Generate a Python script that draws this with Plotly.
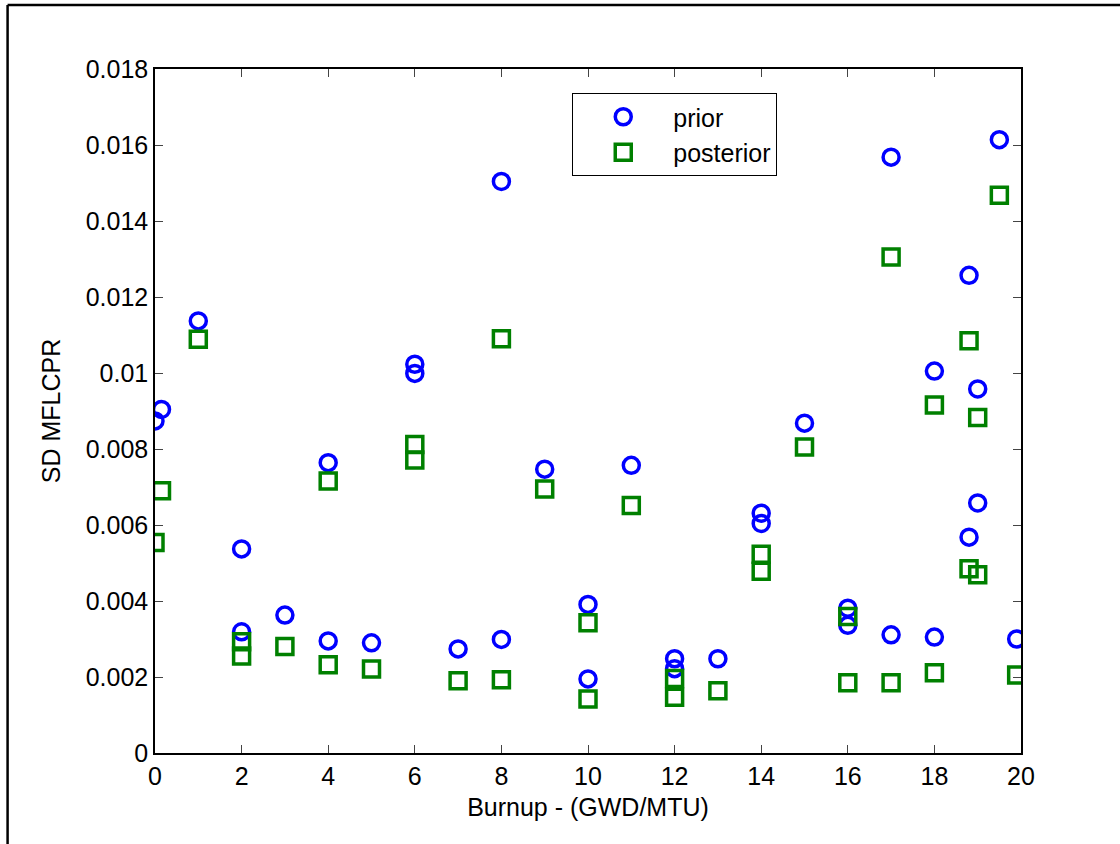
import plotly.graph_objects as go

# Burnup (GWD/MTU) positions
burnup = [0, 0.15, 1, 2, 2, 3, 4, 4, 5, 6, 6, 7, 8, 8, 9, 10, 10, 11, 12, 12,
          13, 14, 14, 15, 16, 16, 17, 17, 18, 18, 18.8, 18.8, 19, 19, 19.5, 19.9]

sd_prior = [0.00874, 0.00904, 0.01137, 0.00537, 0.00319, 0.00363, 0.00764, 0.00295,
            0.00290, 0.01023, 0.00999, 0.00274, 0.01504, 0.00299, 0.00747, 0.00391,
            0.00195, 0.00757, 0.00248, 0.00222, 0.00248, 0.00631, 0.00604, 0.00868,
            0.00381, 0.00336, 0.01568, 0.00311, 0.01005, 0.00305, 0.01257, 0.00568,
            0.00958, 0.00658, 0.01614, 0.00300]

sd_posterior = [0.00554, 0.00690, 0.01089, 0.00293, 0.00255, 0.00280, 0.00716, 0.00232,
                0.00221, 0.00812, 0.00771, 0.00190, 0.01090, 0.00193, 0.00695, 0.00343,
                0.00142, 0.00651, 0.00196, 0.00147, 0.00164, 0.00523, 0.00478, 0.00805,
                0.00359, 0.00185, 0.01305, 0.00185, 0.00916, 0.00211, 0.01085, 0.00485,
                0.00883, 0.00469, 0.01468, 0.00205]

x_ticks = [0, 2, 4, 6, 8, 10, 12, 14, 16, 18, 20]
y_ticks = [0, 0.002, 0.004, 0.006, 0.008, 0.01, 0.012, 0.014, 0.016, 0.018]
y_tick_labels = ["0", "0.002", "0.004", "0.006", "0.008", "0.01", "0.012", "0.014", "0.016", "0.018"]

FONT = "Liberation Sans, Arial, sans-serif"
FS = 25

fig = go.Figure()
fig.add_trace(go.Scatter(
    x=burnup, y=sd_prior, mode="markers", name="prior",
    marker=dict(symbol="circle-open", size=16, color="#0000ff",
                line=dict(width=3.5, color="#0000ff")),
))
fig.add_trace(go.Scatter(
    x=burnup, y=sd_posterior, mode="markers", name="posterior",
    marker=dict(symbol="square-open", size=16, color="#008000",
                line=dict(width=3.5, color="#008000")),
))

L, R, T, B = 154.5, 99, 69, 91
W, H = 1120, 844
pw, ph = W - L - R, H - T - B

def px_x(p):
    return (p - L) / pw

def px_y(p):
    return (H - B - p) / ph

axis_common = dict(
    showline=True, linecolor="black", linewidth=1.5, mirror="ticks",
    ticks="inside", ticklen=8, tickwidth=1, tickcolor="#444444",
    showgrid=False, zeroline=False,
    tickfont=dict(family=FONT, size=FS, color="black"),
)

fig.update_layout(
    width=W, height=H,
    margin=dict(l=L, r=R, t=T, b=B, autoexpand=False),
    paper_bgcolor="white", plot_bgcolor="white",
    font=dict(family=FONT, color="black"),
    xaxis=dict(range=[0, 20], tickvals=x_ticks,
               title=dict(text="Burnup - (GWD/MTU)", font=dict(family=FONT, size=FS), standoff=10),
               **axis_common),
    yaxis=dict(range=[0, 0.018], tickvals=y_ticks, ticktext=y_tick_labels,
               title=dict(text="SD MFLCPR", font=dict(family=FONT, size=FS), standoff=18),
               **axis_common),
    legend=dict(x=px_x(572), y=px_y(93), xanchor="left", yanchor="top",
                bordercolor="black", borderwidth=1, bgcolor="white",
                font=dict(family=FONT, size=FS), itemwidth=90,
                tracegroupgap=0),
    showlegend=True,
    shapes=[
        dict(type="line", xref="paper", yref="paper",
             x0=px_x(7), x1=px_x(W + 5), y0=px_y(5), y1=px_y(5),
             line=dict(color="black", width=2.5)),
        dict(type="line", xref="paper", yref="paper",
             x0=px_x(7), x1=px_x(7), y0=px_y(5), y1=px_y(H + 5),
             line=dict(color="black", width=2.5)),
    ],
)

fig.write_html("out.html")
